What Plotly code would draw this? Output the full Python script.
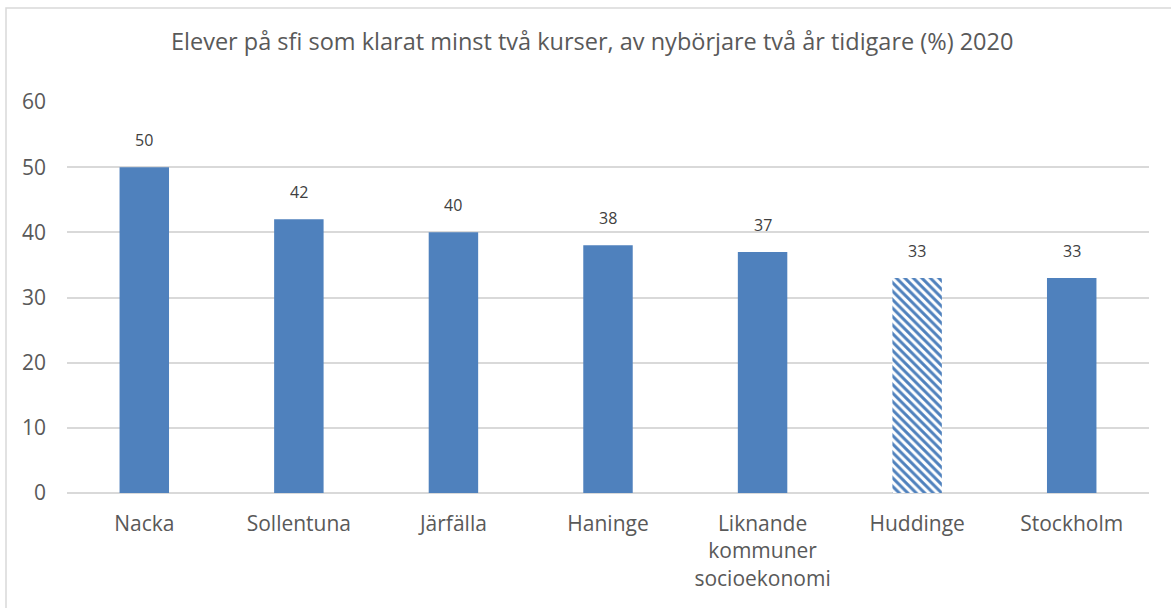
import plotly.graph_objects as go

categories = ["Nacka", "Sollentuna", "Järfälla", "Haninge",
              "Liknande<br>kommuner<br>socioekonomi", "Huddinge", "Stockholm"]
values = [50, 42, 40, 38, 37, 33, 33]
highlight = "Huddinge"
title_text = "Elever på sfi som klarat minst två kurser, av nybörjare två år tidigare (%) 2020"
y_ticks = [0, 10, 20, 30, 40, 50, 60]

BLUE = "#4f81bd"
TXT = "#595959"
FONT = "Open Sans"

W, H = 1171, 608
L, R, T, B = 67, 22, 102, 115

solid_x = [c for c in categories if c != highlight]
solid_y = [v for c, v in zip(categories, values) if c != highlight]
hl_x = [c for c in categories if c == highlight]
hl_y = [v for c, v in zip(categories, values) if c == highlight]

fig = go.Figure()
fig.add_trace(go.Bar(
    x=solid_x, y=solid_y,
    marker=dict(color=BLUE, line=dict(width=0)),
    hoverinfo="x+y",
))
fig.add_trace(go.Bar(
    x=hl_x, y=hl_y,
    marker=dict(color="white", line=dict(width=0),
                pattern=dict(shape="\\", fgcolor=BLUE, fgopacity=1,
                             size=6, solidity=0.5, fillmode="overlay")),
    hoverinfo="x+y",
))

annotations = []
for c, v in zip(categories, values):
    annotations.append(dict(x=c, y=v, xref="x", yref="y", text=str(v),
                            showarrow=False, yanchor="bottom", yshift=14,
                            font=dict(family=FONT, size=16, color="#404040")))
annotations.append(dict(x=(592 - L) / (W - L - R), y=(H - B - 41) / (H - T - B),
                        xref="paper", yref="paper", text=title_text, showarrow=False,
                        xanchor="center", yanchor="middle",
                        font=dict(family=FONT, size=23.5, color=TXT)))

pw, ph = W - L - R, H - T - B
shapes = [dict(type="rect", xref="paper", yref="paper",
               x0=(6 - L) / pw, x1=(1180 - L) / pw,
               y0=(H - B - 620) / ph, y1=(H - B - 8) / ph,
               line=dict(color="#d9d9d9", width=1.5), fillcolor="rgba(0,0,0,0)",
               layer="below")]

fig.update_layout(
    width=W, height=H,
    margin=dict(l=L, r=R, t=T, b=B, autoexpand=False),
    paper_bgcolor="white", plot_bgcolor="white",
    barmode="overlay",
    bargap=0.68,
    showlegend=False,
    annotations=annotations,
    shapes=shapes,
    font=dict(family=FONT, color=TXT),
    xaxis=dict(showgrid=False, showline=False, zeroline=False, ticks="",
               categoryorder="array", categoryarray=categories,
               tickfont=dict(family=FONT, size=21, color=TXT),
               ticklabelstandoff=16),
    yaxis=dict(range=[0, 60], tickvals=y_ticks, showgrid=True, gridcolor="#d9d9d9",
               gridwidth=1.5, zeroline=True, zerolinecolor="#d9d9d9", zerolinewidth=2,
               showline=False, ticks="",
               tickfont=dict(family=FONT, size=21, color=TXT),
               ticklabelstandoff=20),
)

fig.write_html("out.html", config={"displayModeBar": False},
               post_script="document.body.style.margin='0';")
